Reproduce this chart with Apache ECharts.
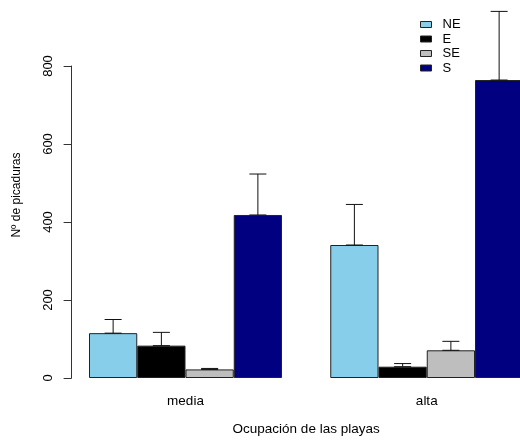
<!DOCTYPE html>
<html>
<head>
<meta charset="utf-8">
<script src="https://cdn.jsdelivr.net/npm/echarts@6/dist/echarts.min.js"></script>
<style>
  html, body { margin: 0; padding: 0; background: #fff; overflow: hidden; }
  /* the plot runs past the right edge of the page, so the canvas is wider than the view */
  #chart { width: 560px; height: 441px; }
</style>
</head>
<body>
<div id="chart"></div>
<script>
// Beach occupancy groups and wind orientations
const groups = ['media', 'alta'];
const orientations = ['NE', 'E', 'SE', 'S'];
const colors = ['#87CEEB', '#000000', '#BEBEBE', '#000080'];

// Mean number of stings per orientation (one value per group)
const meanNE = [115, 341];
const meanE = [83, 29];
const meanSE = [22, 71];
const meanS = [418, 764];

// Upper error (added to the mean)
const errNE = [35, 104];
const errE = [34, 8];
const errSE = [2.5, 23];
const errS = [105, 176];

const yTicks = [0, 200, 400, 600, 800];

const means = [meanNE, meanE, meanSE, meanS];
const errs = [errNE, errE, errSE, errS];

// Layout: bars touch inside a group, one bar width of space between groups
const barPx = 48.25;
const bandPx = barPx * (orientations.length + 1);
const firstCenter = 185.5;
const gridLeft = firstCenter - bandPx / 2;
const axisX = 71.6; // where the value axis is drawn

const chart = echarts.init(document.getElementById('chart'), null, { renderer: 'canvas' });

const barSeries = orientations.map((name, s) => ({
  name: name,
  type: 'bar',
  barWidth: barPx,
  barGap: 0,
  clip: false,
  itemStyle: { color: colors[s], borderColor: '#222', borderWidth: 1 },
  emphasis: { disabled: true },
  data: means[s]
}));

// Upper error bars, centred on each bar
const errorSeries = {
  type: 'custom',
  clip: false,
  silent: true,
  z: 5,
  data: orientations.flatMap((_, s) =>
    groups.map((_, g) => [g, means[s][g], means[s][g] + errs[s][g], s])
  ),
  renderItem: function (params, api) {
    const dx = (api.value(3) - (orientations.length - 1) / 2) * barPx;
    const low = api.coord([api.value(0), api.value(1)]);
    const high = api.coord([api.value(0), api.value(2)]);
    const x = low[0] + dx;
    const hw = 8.5;
    const style = { stroke: '#111', lineWidth: 1 };
    return {
      type: 'group',
      children: [
        { type: 'line', shape: { x1: x, y1: low[1], x2: x, y2: high[1] }, style: style },
        { type: 'line', shape: { x1: x - hw, y1: high[1], x2: x + hw, y2: high[1] }, style: style },
        { type: 'line', shape: { x1: x - hw, y1: low[1], x2: x + hw, y2: low[1] }, style: style }
      ]
    };
  }
};

const option = {
  animation: false,
  backgroundColor: '#ffffff',
  textStyle: { fontFamily: 'Liberation Sans, Arial, sans-serif', color: '#000' },
  grid: { left: gridLeft, top: 66, width: bandPx * groups.length, height: 316, containLabel: false },
  legend: {
    data: orientations,
    orient: 'vertical',
    left: 420,
    top: 17.5,
    padding: 0,
    itemWidth: 11,
    itemHeight: 6,
    itemGap: 0.5,
    icon: 'rect',
    selectedMode: false,
    itemStyle: { borderColor: '#222', borderWidth: 1 },
    textStyle: { fontSize: 13, color: '#000', lineHeight: 14, padding: [0, 0, 0, 6] }
  },
  xAxis: {
    type: 'category',
    data: groups,
    boundaryGap: true,
    splitLine: { show: false },
    axisLine: { show: false },
    axisTick: { show: false },
    axisLabel: { fontSize: 13.5, color: '#000', margin: 16 },
    name: 'Ocupación de las playas',
    nameLocation: 'middle',
    nameGap: 44,
    nameTextStyle: { fontSize: 13.5, color: '#000' }
  },
  yAxis: {
    type: 'value',
    min: yTicks[0],
    max: yTicks[yTicks.length - 1],
    interval: 200,
    offset: gridLeft - axisX,
    splitLine: { show: false },
    axisLine: { show: true, lineStyle: { color: '#333', width: 1 } },
    axisTick: { show: true, length: 8, lineStyle: { color: '#333' } },
    axisLabel: { rotate: 90, fontSize: 13, color: '#000', margin: 16.5 },
    name: 'Nº de picaduras',
    nameLocation: 'middle',
    nameGap: 49,
    nameRotate: 90,
    nameTextStyle: { fontSize: 12, color: '#000', padding: [0, 0, 0, 54] }
  },
  series: [...barSeries, errorSeries]
};

chart.setOption(option);
</script>
</body>
</html>
